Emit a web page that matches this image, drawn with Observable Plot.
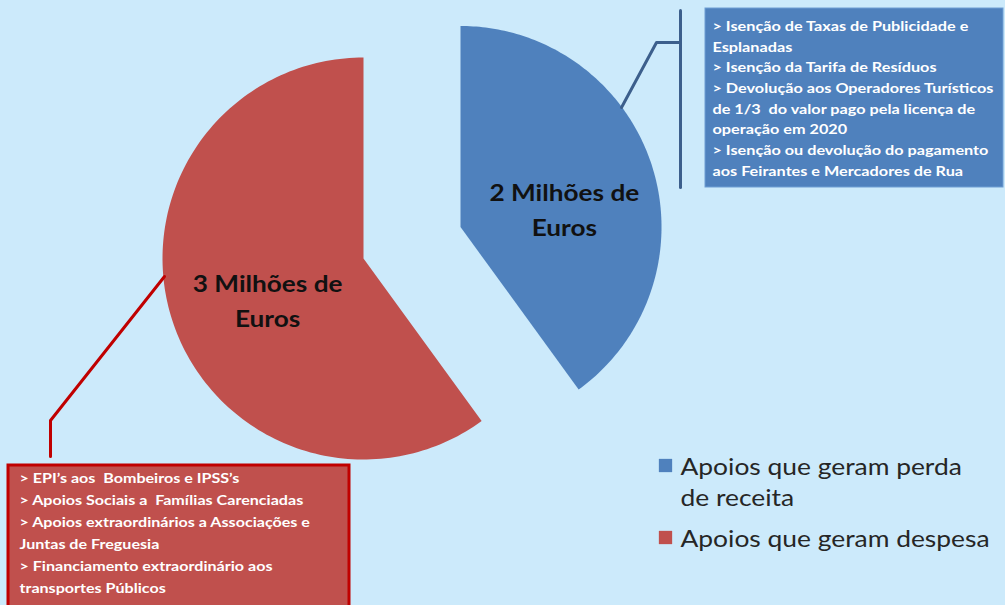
<!DOCTYPE html>
<html><head><meta charset="utf-8">
<script src="https://cdn.jsdelivr.net/npm/d3@7"></script>
<script src="https://cdn.jsdelivr.net/npm/@observablehq/plot@0.6"></script>
<style>
html,body{margin:0;padding:0;background:#CCEAFB;}
#chart svg{display:block;}
</style>
</head><body><div id="chart"></div>
<script>
// ---- data ----
const categories = ["Apoios que geram perda de receita", "Apoios que geram despesa"];
const values = [2, 3]; // milhões de euros
const sliceLabels = ["2 Milhões de\nEuros", "3 Milhões de\nEuros"];
const legendLabels = ["Apoios que geram perda\nde receita", "Apoios que geram despesa"];
const receitaItems = [
  "> Isenção de Taxas de Publicidade e",
  "Esplanadas",
  "> Isenção da Tarifa de Resíduos",
  "> Devolução aos Operadores Turísticos",
  "de 1/3  do valor pago pela licença de",
  "operação em 2020",
  "> Isenção ou devolução do pagamento",
  "aos Feirantes e Mercadores de Rua"
];
const despesaItems = [
  "> EPI’s aos  Bombeiros e IPSS’s",
  "> Apoios Sociais a  Famílias Carenciadas",
  "> Apoios extraordinários a Associações e",
  "Juntas de Freguesia",
  "> Financiamento extraordinário aos",
  "transportes Públicos"
];
const colors = ["#4F81BD", "#C0504D"];

// ---- layout ----
const W = 1005, H = 605;
const cx = 363, cy = 258, R = 201;
const explode = [102, 0];

const arcs = d3.pie().sort(null)(values);
const slicePts = [];
const labelPts = [];
arcs.forEach((a, i) => {
  const mid = (a.startAngle + a.endAngle) / 2;
  const ox = cx + explode[i] * Math.sin(mid);
  const oy = cy - explode[i] * Math.cos(mid);
  const cat = categories[i];
  slicePts.push({cat, x: ox, y: oy});
  const n = 160;
  for (let k = 0; k <= n; k++) {
    const t = a.startAngle + (a.endAngle - a.startAngle) * k / n;
    slicePts.push({cat, x: ox + R * Math.sin(t), y: oy - R * Math.cos(t)});
  }
  slicePts.push({cat, x: ox, y: oy});
  labelPts.push({
    cat,
    label: sliceLabels[i],
    x: ox + 105 * Math.sin(mid) + 4,
    y: oy - 95 * Math.cos(mid) + 10
  });
});

const blueBox = {x1: 705, x2: 1003, y1: 8, y2: 187};
const redBox = {x1: 8, x2: 349, y1: 465, y2: 612};
const blueCallout = [{x: 621, y: 107}, {x: 656, y: 42}, {x: 680, y: 42}];
const blueBar = [{x: 680, y: 10}, {x: 680, y: 187}];
const redCallout = [{x: 164, y: 276}, {x: 50, y: 420}, {x: 50, y: 456}];

const legendRows = [
  {cat: categories[0], label: legendLabels[0], y: 465},
  {cat: categories[1], label: legendLabels[1], y: 537}
];
const boxTexts = [
  {text: receitaItems.join("\n"), x: blueBox.x1 + 7, y: blueBox.y1 + 8},
  {text: despesaItems.join("\n"), x: redBox.x1 + 11, y: redBox.y1 + 2}
];

const font = "Lato, 'Open Sans', sans-serif";

const chart = Plot.plot({
  width: W, height: H,
  margin: 0,
  x: {domain: [0, W], range: [0, W], axis: null},
  y: {domain: [0, H], range: [0, H], axis: null},
  color: {domain: categories, range: colors},
  style: {background: "#CCEAFB", fontFamily: font},
  marks: [
    Plot.line(slicePts, {x: "x", y: "y", z: "cat", fill: "cat", stroke: null, curve: "linear"}),
    Plot.line(blueCallout, {x: "x", y: "y", stroke: "#3C5F8C", strokeWidth: 3}),
    Plot.line(blueBar, {x: "x", y: "y", stroke: "#3C5F8C", strokeWidth: 3}),
    Plot.line(redCallout, {x: "x", y: "y", stroke: "#C00000", strokeWidth: 3}),
    Plot.rect([blueBox], {x1: "x1", x2: "x2", y1: "y1", y2: "y2", fill: colors[0], stroke: "#6E9ED4", strokeWidth: 1}),
    Plot.rect([redBox], {x1: "x1", x2: "x2", y1: "y1", y2: "y2", fill: colors[1], stroke: "#C00000", strokeWidth: 3}),
    Plot.dot(legendRows, {x: () => 665, y: "y", symbol: "square", r: 7.5, fill: "cat", stroke: null}),
    // text marks (order matters for horizontal stretch below)
    Plot.text(labelPts, {x: "x", y: "y", text: "label", fill: "#111", fontSize: 22, fontWeight: "bold", lineHeight: 1.6, textAnchor: "middle", lineAnchor: "middle", fontFamily: font}),
    Plot.text(boxTexts.slice(0, 1), {x: "x", y: "y", text: "text", textAnchor: "start", lineAnchor: "top", fill: "white", fontSize: 14, fontWeight: "bold", lineHeight: 1.475, fontFamily: font}),
    Plot.text(boxTexts.slice(1), {x: "x", y: "y", text: "text", textAnchor: "start", lineAnchor: "top", fill: "white", fontSize: 14, fontWeight: "bold", lineHeight: 1.575, fontFamily: font}),
    Plot.text(legendRows, {x: () => 680, y: d => d.y - 12.5, text: "label", textAnchor: "start", lineAnchor: "top", fill: "#262626", fontSize: 24, lineHeight: 1.3, fontFamily: font})
  ]
});

// Reference typeface (Calibri, horizontally stretched) is wider: stretch text horizontally.
const stretch = [1.19, 1.16, 1.15, 1.1];
chart.querySelectorAll('g[aria-label="text"]').forEach((g, gi) => {
  const s = stretch[gi] ?? 1;
  g.querySelectorAll("text").forEach(t => {
    const tr = t.getAttribute("transform") || "";
    t.setAttribute("transform", tr + ` scale(${s},1)`);
  });
});
document.getElementById("chart").appendChild(chart);
</script>
</body></html>
